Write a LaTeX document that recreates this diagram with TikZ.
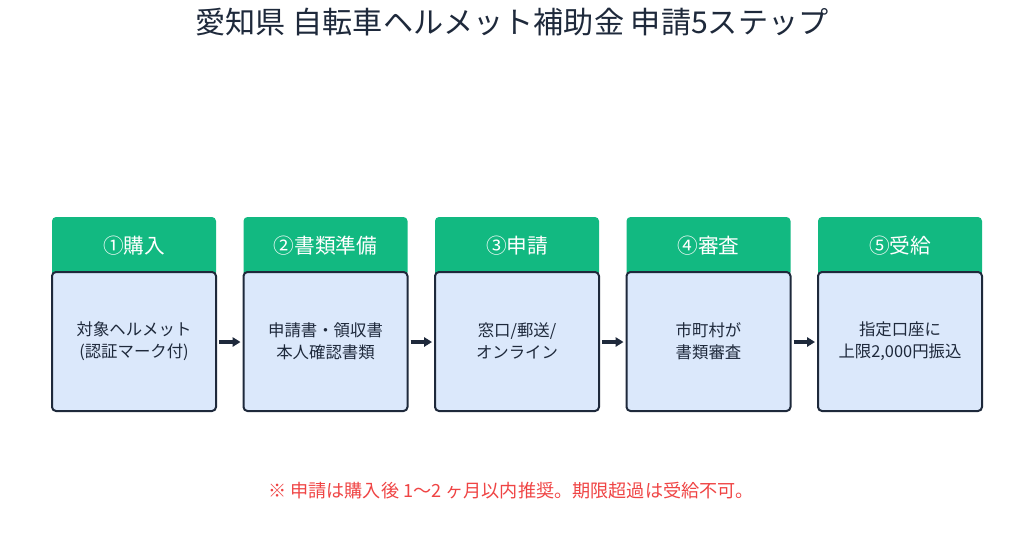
\documentclass[tikz,border=0pt]{standalone}
\usepackage{fontspec}
\setmainfont{Noto Sans CJK JP}
\usetikzlibrary{arrows.meta}
\definecolor{hdr}{HTML}{12B981}
\definecolor{bodyc}{HTML}{DBE8FB}
\definecolor{edge}{HTML}{1E293B}
\definecolor{note}{HTML}{EF4444}
\tikzset{
 hd/.style={fill=hdr,rounded corners=3pt},
 bd/.style={fill=bodyc,draw=edge,line width=1.5pt,rounded corners=3pt},
 ht/.style={text=white,font=\fontsize{15.5}{18}\selectfont},
 bt/.style={text=edge,font=\fontsize{12.3}{16.5}\selectfont,align=center},
 ar/.style={-{Triangle[length=6pt,width=7pt]},draw=edge,line width=2.3pt}
}
\begin{document}
\begin{tikzpicture}[x=0.75pt,y=-0.75pt]
\useasboundingbox (0,0) rectangle (1024,539);
\node[text=edge,font=\fontsize{22.6}{25}\selectfont] (title) at (512,22) {愛知県 自転車ヘルメット補助金 申請5ステップ};
\foreach \i/\x/\h/\b in {1/52/①購入/{対象ヘルメット\\(認証マーク付)},
  2/243.5/②書類準備/{申請書・領収書\\本人確認書類},
  3/435/③申請/{窓口/郵送/\\オンライン},
  4/626.5/④審査/{市町村が\\書類審査},
  5/818/⑤受給/{指定口座に\\上限2,000円振込}}{
  \path[hd] (\x,217) rectangle (\x+164,276);
  \draw[bd] (\x,272) rectangle (\x+164,411);
  \node[ht] (h\i) at (\x+82,246) {\h};
  \node[bt] (b\i) at (\x+82,341) {\b};
  \coordinate (L\i) at (\x-3,342);
  \coordinate (R\i) at (\x+167,342);
}
\foreach \a/\b in {1/2,2/3,3/4,4/5}{\draw[ar] (R\a) -- (L\b);}
\node[text=note,font=\fontsize{13.6}{15}\selectfont] (n) at (511,491) {※ 申請は購入後 1〜2 ヶ月以内推奨。期限超過は受給不可。};
\end{tikzpicture}
\end{document}
